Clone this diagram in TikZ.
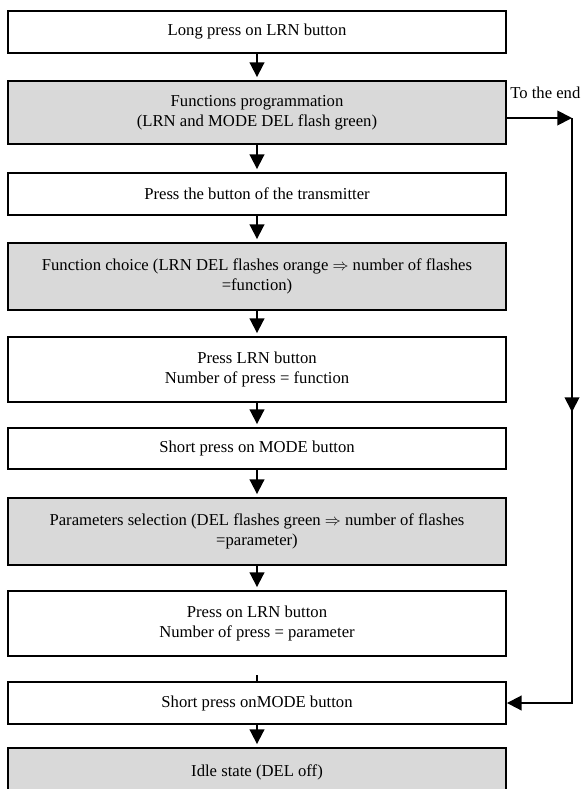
\documentclass[tikz,border=0pt]{standalone}
\usepackage{fontspec}
\setmainfont{Liberation Serif}
\usetikzlibrary{arrows.meta}
\begin{document}
\begin{tikzpicture}[x=0.75pt,y=-0.75pt,
  stepbox/.style={draw=black, line width=1.4pt, minimum width=373.5pt,
    align=center, inner sep=0pt, font=\fontsize{12.5}{15}\selectfont},
  plainbox/.style={stepbox, fill=white},
  shadedbox/.style={stepbox, fill=black!15},
  tip/.style={-{Triangle[length=11pt,width=11pt]}},
  flow/.style={line width=1.4pt, tip, shorten >=2.25pt},
  link/.style={line width=1.4pt}]
\clip (0,0) rectangle (586,789);
\fill[white] (0,0) rectangle (586,789);

% main chain of steps
\node[plainbox,  minimum height=31.5pt]  (b1)  at (257,32)    {Long press on LRN button};
\node[shadedbox, minimum height=47.25pt] (b2)  at (257,112.5) {Functions programmation\\(LRN and MODE DEL flash green)};
\node[plainbox,  minimum height=31.5pt]  (b3)  at (257,194)   {Press the button of the transmitter};
\node[shadedbox, minimum height=50.25pt] (b4)  at (257,276.5) {Function choice (LRN DEL flashes orange $\Rightarrow$ number of flashes\\=function)};
\node[plainbox,  minimum height=48.75pt] (b5)  at (257,369.5) {Press LRN button\\Number of press = function};
\node[plainbox,  minimum height=30.75pt] (b6)  at (257,448.5) {Short press on MODE button};
\node[shadedbox, minimum height=50.25pt] (b7)  at (257,531.5) {Parameters selection (DEL flashes green $\Rightarrow$ number of flashes\\=parameter)};
\node[plainbox,  minimum height=48.75pt] (b8)  at (257,623.5) {Press on LRN button\\Number of press = parameter};
\node[plainbox,  minimum height=31.5pt]  (b9)  at (257,703)   {Short press onMODE button};
\node[shadedbox, minimum height=36pt]    (b10) at (257,772)   {Idle state (DEL off)};

% vertical arrows between steps
\draw[flow] (b1.south) -- (b2.north);
\draw[flow] (b2.south) -- (b3.north);
\draw[flow] (b3.south) -- (b4.north);
\draw[flow] (b4.south) -- (b5.north);
\draw[flow] (b5.south) -- (b6.north);
\draw[flow] (b6.south) -- (b7.north);
\draw[flow] (b7.south) -- (b8.north);
\coordinate (t) at (257,675);
\draw[link] (t) -- (b9.north);
\draw[flow] (b9.south) -- (b10.north);

% shortcut to the end
\node[anchor=west, inner sep=0pt, font=\fontsize{12.5}{15}\selectfont] (lbl) at (510,93) {To the end};
\coordinate (r1) at (572,118);
\coordinate (rm) at (572,412);
\coordinate (r2) at (572,703);
\draw[flow, shorten >=0pt] (b2.east |- r1) -- (r1);
\draw[link, tip] (r1) -- (r2) -- (b9.east);
\draw[flow, shorten >=0pt] (r1) -- (rm);
\end{tikzpicture}
\end{document}
